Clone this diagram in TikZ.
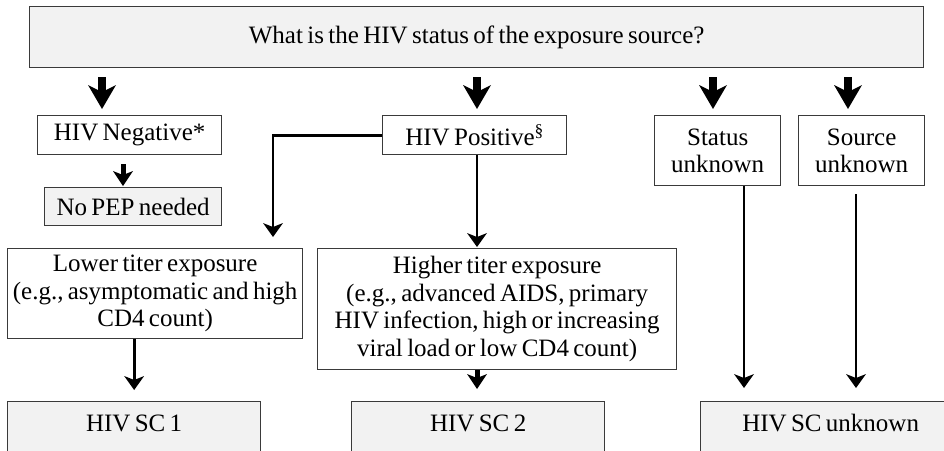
\documentclass[tikz,border=0pt]{standalone}
\usepackage{fontspec}
\setmainfont{Liberation Serif}[WordSpace=0.7]
\usetikzlibrary{arrows.meta,calc}

\definecolor{boxgray}{HTML}{F2F2F2}
\definecolor{edgegray}{HTML}{3A3A3A}

\begin{document}
\begin{tikzpicture}[
  x=1pt, y=1pt,
  line join=miter,
  every node/.style={font=\fontsize{25}{27.5}\selectfont, inner sep=0pt, align=center},
  box/.style={draw=edgegray, line width=1.3pt, anchor=north west},
  shaded/.style={box, fill=boxgray},
  bottombox/.style={shaded, text height=30pt, text depth=40pt},
  bigarr/.style={line width=8.5pt, -{Stealth[length=24pt,width=28pt,inset=7pt,line width=0pt]}},
  midarr/.style={line width=5pt, -{Stealth[length=15pt,width=20pt,inset=4pt,line width=0pt]}},
  thinarr/.style={line width=2.8pt, -{Stealth[length=14pt,width=20pt,inset=4pt,line width=0pt]}}
]
  \useasboundingbox (0,0) rectangle (944,-450);
  \clip (0,0) rectangle (944,-450);

  % Question box
  \node[shaded, minimum width=894pt, minimum height=61pt] (q) at (29,-6)
    {What is the HIV status of the exposure source?};

  % Source categories
  \node[box, minimum width=184pt, minimum height=39pt] (neg) at (37,-115) {HIV Negative*};
  \node[shaded, minimum width=177pt, minimum height=38pt] (nopep) at (44,-187) {No PEP needed};
  \node[box, minimum width=184pt, minimum height=39pt] (pos) at (382,-115) {HIV Positive\textsuperscript{\S}};
  \node[box, minimum width=126pt, minimum height=70pt] (stat) at (654,-115) {Status\\unknown};
  \node[box, minimum width=126pt, minimum height=70pt] (src) at (798,-115) {Source\\unknown};

  % Exposure titer
  \node[box, minimum width=295pt, minimum height=90pt] (low) at (7,-248)
    {Lower titer exposure\\(e.g., asymptomatic and high\\CD4 count)};
  \node[box, minimum width=359pt, minimum height=121pt] (high) at (317,-248)
    {Higher titer exposure\\(e.g., advanced AIDS, primary\\HIV infection, high or increasing\\viral load or low CD4 count)};

  % Status codes (cut off at the bottom)
  \node[bottombox, minimum width=253pt] (sc1) at (7,-401) {HIV SC 1};
  \node[bottombox, minimum width=253pt] (sc2) at (351,-401) {HIV SC 2};
  \node[bottombox, minimum width=260pt] (scu) at (700,-401) {HIV SC unknown};

  % Arrow columns
  \coordinate (c1) at (102,0);
  \coordinate (c2) at (477,0);
  \coordinate (c3) at (713,0);
  \coordinate (c4) at (848,0);
  \coordinate (c5) at (123,0);
  \coordinate (c6) at (273,0);
  \coordinate (c7) at (744,0);
  \coordinate (c8) at (856,0);

  % Big arrows from the question
  \draw[bigarr, shorten <=9pt, shorten >=6pt] (q.south -| c1) -- (neg.north -| c1);
  \draw[bigarr, shorten <=9pt, shorten >=6pt] (q.south -| c2) -- (pos.north -| c2);
  \draw[bigarr, shorten <=9pt, shorten >=6pt] (q.south -| c3) -- (stat.north -| c3);
  \draw[bigarr, shorten <=9pt, shorten >=6pt] (q.south -| c4) -- (src.north -| c4);

  % Second level
  \draw[midarr, shorten <=9pt, shorten >=1pt] (neg.south -| c5) -- (nopep.north -| c5);
  \draw[thinarr, shorten >=11pt] (pos.west) -| (low.north -| c6);
  \draw[thinarr, shorten >=1pt] (pos.south -| c2) -- (high.north -| c2);

  % Down to the status codes
  \draw[thinarr, shorten >=11pt] (low.south -| sc1.north) -- (sc1.north);
  \draw[midarr, shorten >=12pt] (high.south -| c2) -- (sc2.north -| c2);
  \draw[thinarr, shorten >=13pt] (stat.south -| c7) -- (scu.north -| c7);
  \draw[thinarr, shorten <=8pt, shorten >=13pt] (src.south -| c8) -- (scu.north -| c8);
\end{tikzpicture}
\end{document}
